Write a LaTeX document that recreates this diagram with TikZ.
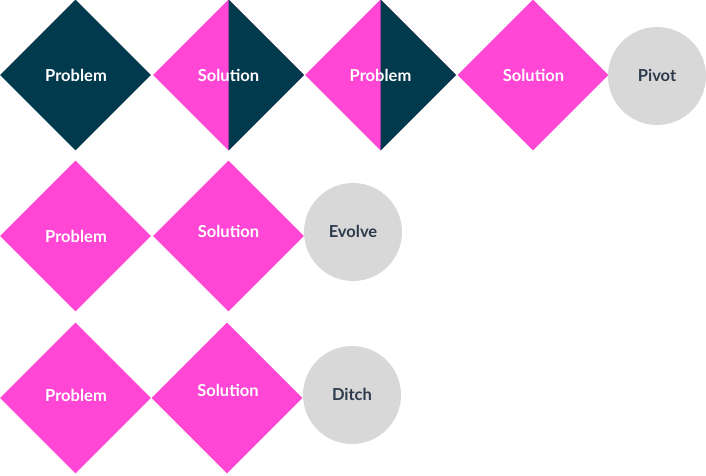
\documentclass[tikz,border=0pt]{standalone}
\usepackage{fontspec}
\setmainfont{Lato}
\usetikzlibrary{shapes.geometric}
\definecolor{pinkc}{HTML}{FF46D4}
\definecolor{navyc}{HTML}{01394D}
\definecolor{greyc}{HTML}{D8D8D8}
\definecolor{labelc}{HTML}{2D3B4D}
\tikzset{
  dia/.style={diamond,aspect=1,inner sep=0pt,minimum width=151pt,minimum height=151pt,draw=none},
  pinkdia/.style={dia,fill=pinkc},
  navydia/.style={dia,fill=navyc},
  circ/.style={circle,inner sep=0pt,minimum size=98pt,fill=greyc,draw=none},
  wtxt/.style={text=white,font=\fontsize{16.5}{19}\selectfont\bfseries,inner sep=0pt},
  dtxt/.style={text=labelc,font=\fontsize{16.5}{19}\selectfont\bfseries,inner sep=0pt},
}
\begin{document}
\begin{tikzpicture}[x=1pt,y=-1pt]
\useasboundingbox (0,0) rectangle (706,475);
% row 1
\node[navydia] (a1) at (75.5,75) {};
\node[pinkdia] (a2) at (228.5,75) {};
\fill[navyc] (a2.north) -- (a2.east) -- (a2.south) -- cycle;
\node[pinkdia] (a3) at (380.5,75) {};
\fill[navyc] (a3.north) -- (a3.east) -- (a3.south) -- cycle;
\node[pinkdia] (a4) at (533,75) {};
\node[circ] (a5) at (657,76) {};
\node[wtxt] (t1) at (76,75) {Problem};
\node[wtxt] (t2) at (228.5,75) {Solution};
\node[wtxt] (t3) at (380.5,75) {Problem};
\node[wtxt] (t4) at (533.5,75) {Solution};
\node[dtxt] (t5) at (657,75) {Pivot};
% row 2
\node[pinkdia] (b1) at (75.5,236) {};
\node[pinkdia] (b2) at (228.5,236) {};
\node[circ] (b3) at (353,232) {};
\node[wtxt] (u1) at (76,236) {Problem};
\node[wtxt] (u2) at (228.5,231) {Solution};
\node[dtxt] (u3) at (353,231) {Evolve};
% row 3
\node[pinkdia] (c1) at (75.5,398) {};
\node[pinkdia] (c2) at (227,398) {};
\node[circ] (c3) at (352,395) {};
\node[wtxt] (v1) at (76,395) {Problem};
\node[wtxt] (v2) at (228,390) {Solution};
\node[dtxt] (v3) at (352,394) {Ditch};
\end{tikzpicture}
\end{document}
